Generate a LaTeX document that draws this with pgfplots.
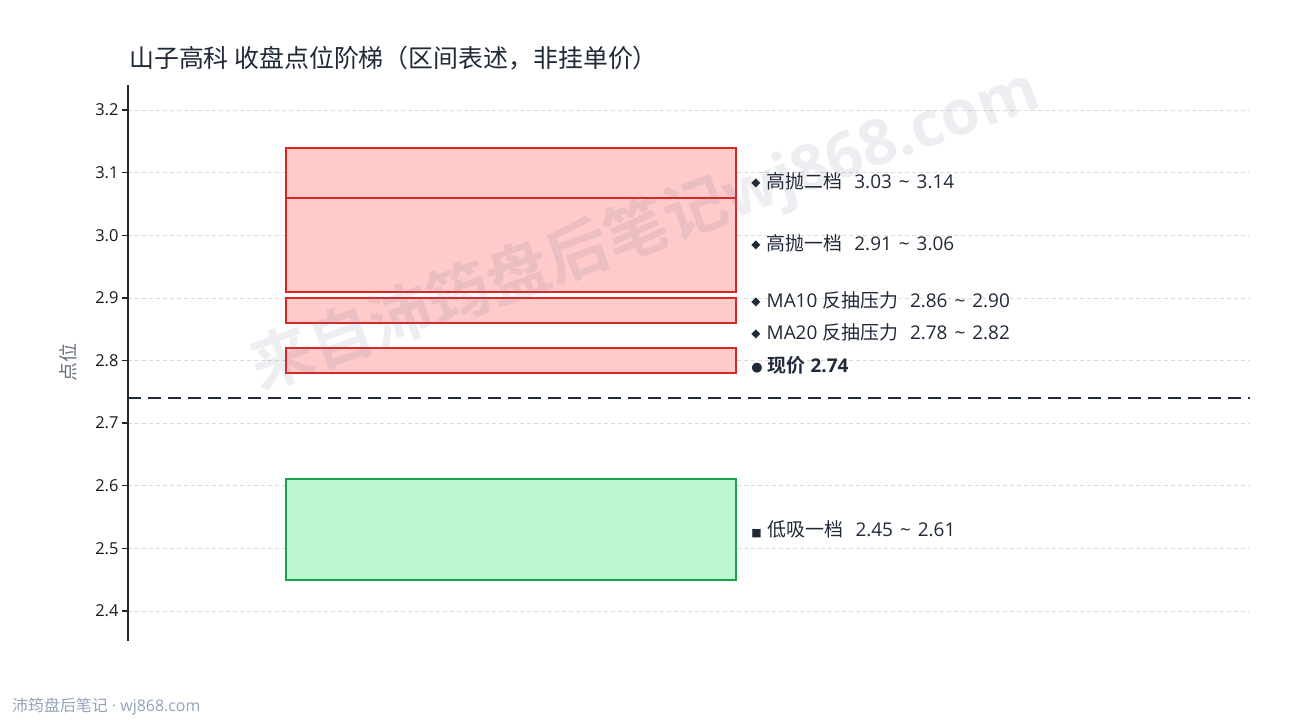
\documentclass[border=0pt]{standalone}
\usepackage{fontspec}
\setmainfont{Open Sans}
\newfontfamily\cjk{Noto Sans CJK SC}[BoldFont={Noto Sans CJK SC Bold}]
\newfontfamily\sym{DejaVu Sans}
\usepackage{pgfplots}
\pgfplotsset{compat=1.18}

\definecolor{hiFill}{HTML}{FECACA}
\definecolor{hiEdge}{HTML}{DC2626}
\definecolor{loFill}{HTML}{BBF7D0}
\definecolor{loEdge}{HTML}{16A34A}
\definecolor{ink}{HTML}{1F2937}
\definecolor{muted}{HTML}{6B7280}
\definecolor{foot}{HTML}{94A3B8}
\definecolor{gridc}{HTML}{DADADA}
\definecolor{wmark}{HTML}{64748B}

% marker glyphs for the zone labels
\newcommand{\dia}{\raisebox{1.5bp}{\sym\fontsize{12}{12}\selectfont ◆}\hspace{6bp}}
\newcommand{\range}[2]{\hspace{12bp}#1\hspace{7bp}\textasciitilde\hspace{7bp}#2}

\begin{document}
\begin{tikzpicture}
\useasboundingbox (0,0) rectangle (1290bp,720bp);
\begin{axis}[
    at={(128bp,79bp)}, anchor=south west,
    width=1122bp, height=556bp, scale only axis,
    xmin=0, xmax=1, ymin=2.352, ymax=3.24,
    hide x axis,
    axis y line*=left,
    ytick={2.4,2.5,2.6,2.7,2.8,2.9,3.0,3.1,3.2},
    yticklabels={2.4,2.5,2.6,2.7,2.8,2.9,3.0,3.1,3.2},
    yticklabel style={font=\fontsize{16.5}{16.5}\selectfont, text=black!90},
    tick align=outside, major tick length=6bp,
    every tick/.style={black!85, line width=1.4bp},
    axis line style={black!85, line width=1.4bp},
    ymajorgrids, grid style={gridc, dash pattern=on 4bp off 3bp, line width=0.6bp},
    ylabel={\cjk 点位},
    ylabel style={at={(axis description cs:-0.0535,0.5)}, anchor=center,
                  font=\fontsize{19}{19}\selectfont, text=muted},
    clip=false,
  ]
  % resistance zones
  \addplot[draw=hiEdge, fill=hiFill, line width=2bp]
    coordinates {(0.141,3.03) (0.542,3.03) (0.542,3.14) (0.141,3.14)} -- cycle;
  \addplot[draw=hiEdge, fill=hiFill, line width=2bp]
    coordinates {(0.141,2.91) (0.542,2.91) (0.542,3.06) (0.141,3.06)} -- cycle;
  \addplot[draw=hiEdge, fill=hiFill, line width=2bp]
    coordinates {(0.141,2.86) (0.542,2.86) (0.542,2.90) (0.141,2.90)} -- cycle;
  \addplot[draw=hiEdge, fill=hiFill, line width=2bp]
    coordinates {(0.141,2.78) (0.542,2.78) (0.542,2.82) (0.141,2.82)} -- cycle;
  % support zone
  \addplot[draw=loEdge, fill=loFill, line width=2bp]
    coordinates {(0.141,2.45) (0.542,2.45) (0.542,2.61) (0.141,2.61)} -- cycle;
  % current price
  \addplot[ink, line width=2bp, dash pattern=on 13bp off 7bp]
    coordinates {(0,2.74) (1,2.74)};

  % watermark
  \node[rotate=20, text=wmark, opacity=0.12, font=\fontsize{63}{63}\selectfont\bfseries]
    at (axis cs:0.461,3.008) {{\cjk\bfseries 来自沛筠盘后笔记}wj868.com};

  % zone labels
  \begin{scope}[every node/.style={anchor=west, inner sep=0pt, text=ink,
                font=\fontsize{19}{19}\selectfont}]
    \node at (axis cs:0.5555,3.0866) {\dia{\cjk 高抛二档}\range{3.03}{3.14}};
    \node at (axis cs:0.5555,2.9875) {\dia{\cjk 高抛一档}\range{2.91}{3.06}};
    \node at (axis cs:0.5555,2.8965) {\dia MA10 {\cjk 反抽压力}\range{2.86}{2.90}};
    \node at (axis cs:0.5555,2.8454) {\dia MA20 {\cjk 反抽压力}\range{2.78}{2.82}};
    \node[font=\fontsize{19}{19}\selectfont\bfseries] at (axis cs:0.5555,2.7927)
      {\raisebox{0.5bp}{\sym\fontsize{13}{13}\selectfont ●}\hspace{5bp}{\cjk\bfseries 现价} 2.74};
    \node at (axis cs:0.5555,2.5307)
      {{\sym\fontsize{11}{11}\selectfont ■}\hspace{6bp}{\cjk 低吸一档}\range{2.45}{2.61}};
  \end{scope}
\end{axis}
\node[anchor=west, inner sep=0pt, text=ink, font=\fontsize{25}{25}\selectfont\cjk]
  at (129bp,662bp) {山子高科 收盘点位阶梯（区间表述，非挂单价）};
\node[anchor=west, inner sep=0pt, text=foot, font=\fontsize{16}{16}\selectfont]
  at (12bp,13bp) {{\cjk 沛筠盘后笔记} · wj868.com};
\end{tikzpicture}
\end{document}
